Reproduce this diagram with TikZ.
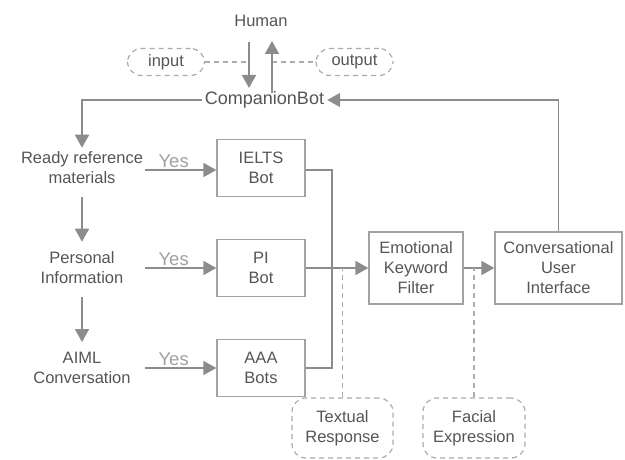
\documentclass[tikz,border=0pt]{standalone}
\usepackage{fontspec}
\setmainfont{Liberation Sans}
\usetikzlibrary{arrows.meta,calc}
\definecolor{txt}{HTML}{555555}
\definecolor{ln}{HTML}{8C8C8C}
\definecolor{bx}{HTML}{A2A2A2}
\definecolor{dsh}{HTML}{ABABAB}
\definecolor{yes}{HTML}{A0A0A0}
\tikzset{
  lbl/.style={align=center, text=txt, inner sep=0pt, minimum width=126pt},
  boxnode/.style={draw=bx, line width=1.3pt, align=center, text=txt, inner sep=0pt},
  cloud/.style={draw=dsh, line width=1.2pt, dash pattern=on 5pt off 4pt, rounded corners=14pt, align=center, text=txt, inner sep=0pt},
  arr/.style={draw=ln, line width=1.8pt, -{Triangle[length=13pt,width=14pt]}},
  plain/.style={draw=ln, line width=1.8pt},
  dline/.style={draw=dsh, line width=1.2pt, dash pattern=on 5pt off 4pt},
  yeslbl/.style={text=yes, inner sep=1pt, above, font=\fontsize{18.5}{20}\selectfont}
}
\begin{document}
\begin{tikzpicture}[x=1pt,y=-1pt,font=\fontsize{16.5}{20}\selectfont]
\useasboundingbox (0,0) rectangle (625,460);
% nodes
\node[text=txt, inner sep=0pt] (human) at (261,21) {Human};
\node[cloud, minimum width=77pt, minimum height=27pt] (input) at (166,62) {input};
\node[cloud, minimum width=77pt, minimum height=27pt] (output) at (354.5,62) {output};
\node[text=txt, inner sep=3pt, font=\fontsize{18}{20}\selectfont] (companion) at (264.5,100) {CompanionBot};
\node[lbl] (ready) at (82,168) {Ready reference\\materials};
\node[lbl] (personal) at (82,268) {Personal\\Information};
\node[lbl] (aiml) at (82,368) {AIML\\Conversation};
\node[boxnode, minimum width=88pt, minimum height=57pt] (ielts) at (261,168) {IELTS\\Bot};
\node[boxnode, minimum width=88pt, minimum height=57pt] (pi) at (261,268) {PI\\Bot};
\node[boxnode, minimum width=88pt, minimum height=57pt] (aaa) at (261,368) {AAA\\Bots};
\node[boxnode, minimum width=94pt, minimum height=72pt] (ekf) at (416,268) {Emotional\\Keyword\\Filter};
\node[boxnode, minimum width=127pt, minimum height=72pt] (cui) at (558.5,268) {Conversational\\User\\Interface};
\node[cloud, minimum width=101pt, minimum height=60pt] (textual) at (342.5,428) {Textual\\Response};
\node[cloud, minimum width=102pt, minimum height=60pt] (facial) at (474,428) {Facial\\Expression};
% coordinates
\coordinate (hdtop) at (249,42);
\coordinate (hdbot) at (249,88);
\coordinate (hutop) at (272,41);
\coordinate (hubot) at (272,93);
\coordinate (jx) at (332,268);
% human <-> companion
\draw[dline] (input.east) -- (hdtop |- input.east);
\draw[dline] (hutop |- output.west) -- (output.west);
\draw[arr] (hdtop) -- (hdbot);
\draw[arr] (hubot) -- (hutop);
% feedback loop
\draw[arr] (cui.north) |- (companion.east);
\draw[arr] (companion.west) -| ([yshift=4pt]ready.north);
% left chain
\draw[arr] ([yshift=-13pt]ready.south) -- ([yshift=10pt]personal.north);
\draw[arr] ([yshift=-13pt]personal.south) -- ([yshift=10pt]aiml.north);
% yes arrows
\draw[arr] ([yshift=-2pt]ready.east) -- ([yshift=-2pt]ready.east -| ielts.west) node[yeslbl, pos=0.4] {Yes};
\draw[arr] (personal.east) -- (personal.east -| pi.west) node[yeslbl, pos=0.4] {Yes};
\draw[arr] (aiml.east) -- (aiml.east -| aaa.west) node[yeslbl, pos=0.4] {Yes};
% bots to filter
\draw[plain] ([yshift=-2pt]ielts.east) -| (jx) |- (aaa.east);
\draw[arr] (pi.east) -- (ekf.west);
\draw[arr] (ekf.east) -- (cui.west);
% dashed outputs
\draw[dline] (textual.north) -- (textual.north |- pi.east);
\draw[dline] (facial.north) -- (facial.north |- ekf.east);
\end{tikzpicture}
\end{document}
